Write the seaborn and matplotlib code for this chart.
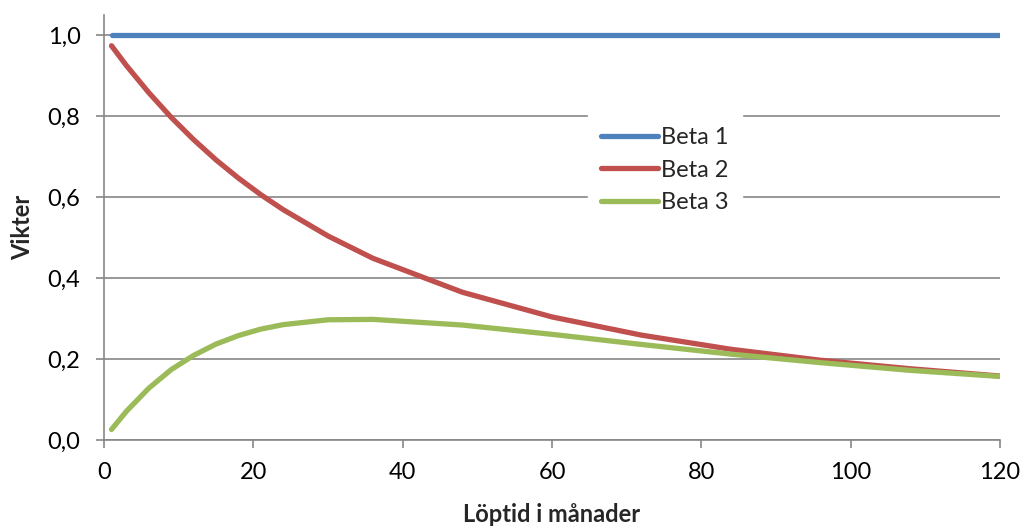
import matplotlib
matplotlib.use("Agg")
import matplotlib.pyplot as plt
import seaborn as sns
import pandas as pd

# Data
maturity = [1, 3, 6, 9, 12, 15, 18, 21, 24, 30, 36, 48, 60, 72, 84, 96, 108, 120]
beta1 = [1.0] * len(maturity)
beta2 = [0.974, 0.925, 0.858, 0.797, 0.742, 0.692, 0.647, 0.606, 0.569,
         0.504, 0.449, 0.365, 0.304, 0.259, 0.224, 0.197, 0.176, 0.158]
beta3 = [0.026, 0.071, 0.128, 0.174, 0.209, 0.237, 0.258, 0.274, 0.285,
         0.297, 0.298, 0.284, 0.261, 0.236, 0.212, 0.191, 0.172, 0.157]
series_names = ["Beta 1", "Beta 2", "Beta 3"]
colors = ["#4F81BD", "#C0504D", "#9BBB59"]
xticks = [0, 20, 40, 60, 80, 100, 120]
yticks = [0.0, 0.2, 0.4, 0.6, 0.8, 1.0]

df = pd.DataFrame({"Löptid": maturity * 3,
                   "Vikt": beta1 + beta2 + beta3,
                   "Serie": sum([[n] * len(maturity) for n in series_names], [])})

sns.set_theme(style="white")
plt.rcParams["font.family"] = ["Lato", "DejaVu Sans"]

fig = plt.figure(figsize=(10.22, 5.26), dpi=100)
ax = fig.add_axes([0.1018, 0.1635, 0.9785 - 0.1018, 0.9715 - 0.1635])

sns.lineplot(data=df, x="Löptid", y="Vikt", hue="Serie", palette=colors,
             linewidth=3.8, ax=ax, legend=True, solid_capstyle="round",
             solid_joinstyle="round")

FS = 17
ax.set_xlim(0, 120)
ax.set_ylim(0, 1.05)
ax.set_xticks(xticks)
ax.set_yticks(yticks)
ax.set_xticklabels([str(t) for t in xticks], fontsize=FS)
ax.set_yticklabels([f"{t:.1f}".replace(".", ",") for t in yticks], fontsize=FS)
ax.yaxis.grid(True, color="#868686", linewidth=1.2)
ax.set_axisbelow(True)
for s in ["top", "right"]:
    ax.spines[s].set_visible(False)
for s in ["left", "bottom"]:
    ax.spines[s].set_color("#868686")
    ax.spines[s].set_linewidth(1.2)
ax.tick_params(axis="both", direction="out", length=6, width=1.2, color="#868686",
               left=True, bottom=True, labelcolor="black")
ax.tick_params(axis="y", pad=11)
ax.tick_params(axis="x", pad=10)
ax.set_xlabel("Löptid i månader", fontsize=FS, fontweight="bold", labelpad=14)
ax.set_ylabel("Vikter", fontsize=FS, fontweight="bold", labelpad=10)

handles, labels = ax.get_legend_handles_labels()
for h in handles:
    h.set_solid_capstyle("round")
leg = ax.legend(handles, labels, loc="center", bbox_to_anchor=(0.626, 0.635),
                frameon=True, fontsize=FS, handlelength=2.4, handletextpad=0.15,
                labelspacing=0.5, borderpad=0.55, fancybox=False)
leg.get_frame().set_facecolor("white")
leg.get_frame().set_edgecolor("white")
leg.get_frame().set_alpha(1.0)

fig.savefig("out.png", dpi=100, facecolor="white")
